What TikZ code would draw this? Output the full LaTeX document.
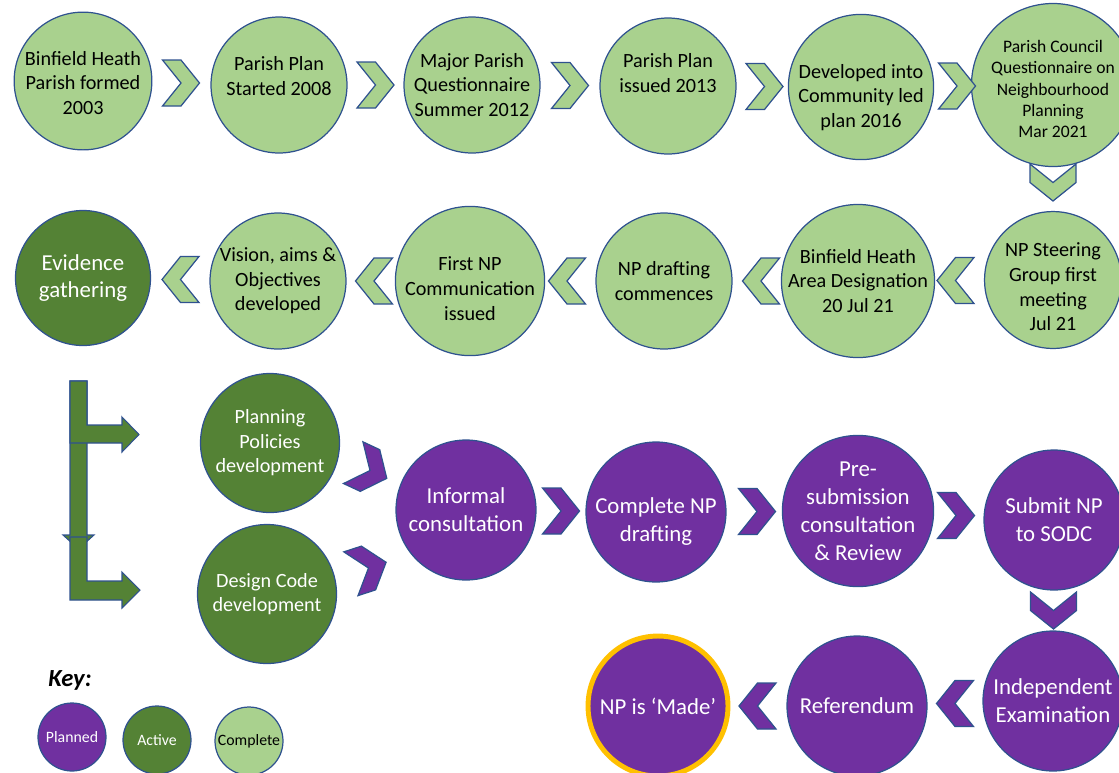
\documentclass[tikz,border=0pt]{standalone}
\usepackage{fontspec}
\setmainfont{Carlito}
\usepackage{tikz}
\usetikzlibrary{calc}
\definecolor{clrdone}{HTML}{A9D18E}
\definecolor{clractive}{HTML}{548235}
\definecolor{clrplan}{HTML}{7030A0}
\definecolor{clrrim}{HTML}{2F528F}
\definecolor{clrgold}{HTML}{FFC000}
\newcommand\lifted[2]{\raisebox{#1}[\height][\depth]{\begin{tabular}{@{}c@{}}#2\end{tabular}}}

\begin{document}
\begin{tikzpicture}[
        x = 0.02cm,
        y = -0.02cm,
        stage/.style = {circle, draw=clrrim, line width=0.7pt, minimum size=2.72cm, inner sep=0pt, align=center, font=\fontsize{11.5}{14}\selectfont},
        donestage/.style = {stage, fill=clrdone, text=black},
        activestage/.style = {stage, fill=clractive, text=white, minimum size=2.78cm},
        planstage/.style = {stage, fill=clrplan, text=white, minimum size=2.8cm, font=\fontsize{13}{15.9}\selectfont},
        keystage/.style = {minimum size=1.36cm, font=\fontsize{9}{11}\selectfont},
        gchev/.style = {fill=clrdone, draw=clrrim, line width=0.7pt},
        pchev/.style = {fill=clrplan, draw=clrrim, line width=0.7pt},
        arm/.style = {fill=clractive, draw=clrrim, line width=0.6pt},
        chev/.pic = {\draw[pic actions] (-18.5,-23) -- (0,-23) -- (18.5,0) -- (0,23) -- (-18.5,23) -- (0,0) -- cycle;}
    ]
        \useasboundingbox (0,0) rectangle (1119,772);

        \node[donestage] (c1) at (83,81) {\lifted{-2.3pt}{Binfield Heath\\Parish formed\\2003}};
        \node[donestage] (c2) at (279,85) {\lifted{4pt}{Parish Plan\\Started 2008}};
        \node[donestage] (c3) at (472,85) {Major Parish\\Questionnaire\\Summer 2012};
        \node[donestage] (c4) at (668,86) {\lifted{6.2pt}{Parish Plan\\issued 2013}};
        \node[donestage] (c5) at (861,87) {\lifted{-6.2pt}{Developed into\\Community led\\plan 2016}};
        \node[donestage, font=\fontsize{10}{12.1}\selectfont] (c6) at (1053,85) {\lifted{-3.4pt}{Parish Council\\Questionnaire on\\Neighbourhood\\Planning\\Mar 2021}};

        \node[donestage] (s1) at (1053,280) {\lifted{-5.1pt}{NP Steering\\Group first\\meeting\\Jul 21}};
        \node[donestage] (s2) at (858,281) {Binfield Heath\\Area Designation\\20 Jul 21};
        \node[donestage] (s3) at (664,281) {NP drafting\\commences};
        \node[donestage] (s4) at (470,281) {\lifted{-5.4pt}{First NP\\Communication\\issued}};
        \node[donestage] (s5) at (278,281) {Vision, aims \&\\Objectives\\developed};
        \node[activestage, minimum size=2.7cm, font=\fontsize{13}{15.9}\selectfont] (eg) at (83,278) {Evidence\\gathering};

        \node[activestage] (pp) at (270,443) {Planning\\Policies\\development};
        \node[activestage] (dc) at (267,594) {Design Code\\development};
        \node[planstage] (ic) at (466,510) {Informal\\consultation};
        \node[planstage] (cd) at (656,512) {\lifted{-5.7pt}{Complete NP\\drafting}};
        \node[planstage] (ps) at (858,511) {Pre-\\submission\\consultation\\\& Review};
        \node[planstage] (sn) at (1054,520) {Submit NP\\to SODC};
        \node[planstage] (ie) at (1053,701) {Independent\\Examination};
        \node[planstage] (rf) at (857,706) {Referendum};
        \node[planstage, draw=clrgold, line width=2.8pt] (md) at (658,706) {NP is ‘Made’};

        \pic[gchev] at ($(c1)!0.5!(c2)$) {chev};
        \pic[gchev] at ($(c2)!0.5!(c3)$) {chev};
        \pic[gchev] at ($(c3)!0.5!(c4)$) {chev};
        \pic[gchev] at ($(c4)!0.5!(c5)$) {chev};
        \pic[gchev] at ($(c5)!0.5!(c6)$) {chev};
        \pic[gchev, rotate=-90] at ($(c6)!0.5!(s1)$) {chev};
        \pic[gchev, rotate=180] at ($(s1)!0.5!(s2)$) {chev};
        \pic[gchev, rotate=180] at ($(s2)!0.5!(s3)$) {chev};
        \pic[gchev, rotate=180] at ($(s3)!0.5!(s4)$) {chev};
        \pic[gchev, rotate=180] at ($(s4)!0.5!(s5)$) {chev};
        \pic[gchev, rotate=180] at ($(s5)!0.5!(eg)$) {chev};

        \pic[pchev, rotate=-25] at ($(pp)!0.5!(ic)+(2,-6)$) {chev};
        \pic[pchev, rotate=18] at ($(dc)!0.5!(ic)+(2,16)$) {chev};
        \pic[pchev] at ($(ic)!0.5!(cd)$) {chev};
        \pic[pchev] at ($(cd)!0.5!(ps)$) {chev};
        \pic[pchev] at ($(ps)!0.5!(sn)$) {chev};
        \pic[pchev, rotate=-90] at ($(sn)!0.5!(ie)$) {chev};
        \pic[pchev, rotate=180] at ($(ie)!0.5!(rf)$) {chev};
        \pic[pchev, rotate=180] at ($(rf)!0.5!(md)$) {chev};

        \draw[arm] (70,381) -- (87,381) -- (87,535) -- (94,535) -- (78.5,549) -- (63,535) -- (70,535) -- cycle;
        \draw[arm] (70,381) -- (87,381) -- (87,425) -- (122,425) -- (122,417) -- (139,434.5) -- (122,452) -- (122,443) -- (70,443) -- cycle;
        \draw[arm] (70,537) -- (87,537) -- (87,581) -- (122,581) -- (122,572) -- (140,590) -- (122,608) -- (122,600) -- (70,600) -- cycle;

        \node[font=\fontsize{14}{16}\selectfont\bfseries\itshape] (key) at (70,680) {Key:};
        \node[planstage, keystage] (kp) at (72,737) {Planned};
        \node[activestage, keystage] (ka) at (157,740) {Active};
        \node[donestage, keystage] (kc) at (249,741) {Complete};
\end{tikzpicture}
\end{document}
